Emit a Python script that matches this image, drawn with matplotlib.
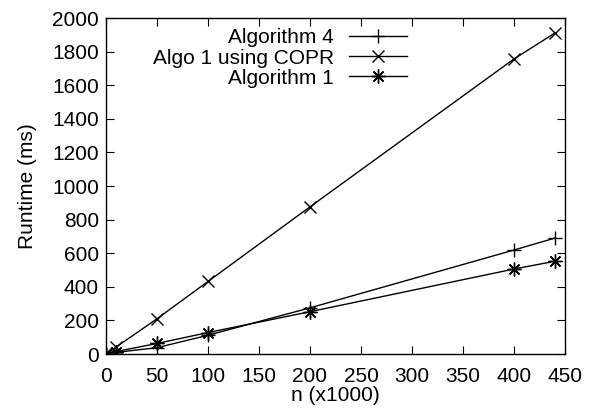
import matplotlib
matplotlib.use("Agg")
import matplotlib.pyplot as plt

plt.rcParams['font.family'] = ['Liberation Sans', 'DejaVu Sans']

# n in thousands
n = [0, 10, 50, 100, 200, 400, 440]
algo4 = [1, 10, 38, 112, 275, 619, 690]
copr = [4, 42, 210, 432, 876, 1756, 1910]
algo1 = [1, 15, 63, 128, 252, 506, 552]

fig = plt.figure(figsize=(5.94, 4.19), dpi=100)
ax = fig.add_axes([0.1785, 0.155, 0.7725, 0.802])

ax.plot(n, algo4, color='black', lw=1, marker='+', ms=10, mew=1, label='Algorithm 4')
ax.plot(n, copr, color='black', lw=1, marker='x', ms=9, mew=1, label='Algo 1 using COPR')
ax.plot(n, algo1, color='black', lw=1, marker=(8, 2, 0), ms=10, mew=1, label='Algorithm 1')

ax.set_xlim(0, 450)
ax.set_ylim(0, 2000)
ax.set_xticks(range(0, 451, 50))
ax.set_yticks(range(0, 2001, 200))
ax.tick_params(direction='in', top=True, right=True, length=6, labelsize=15)
ax.tick_params(axis='x', pad=9)
ax.tick_params(axis='y', pad=5)
ax.set_xlabel('n (x1000)', fontsize=15, labelpad=0)
ax.set_ylabel('Runtime (ms)', fontsize=15, labelpad=11)
for s in ax.spines.values():
    s.set_linewidth(1)

ax.legend(loc='upper right', bbox_to_anchor=(0.685, 0.932), bbox_transform=fig.transFigure,
          markerfirst=False, frameon=False, fontsize=15, handlelength=2.8,
          handletextpad=0.7, labelspacing=0.05, borderaxespad=0, borderpad=0)

fig.savefig('out.png', dpi=100)
